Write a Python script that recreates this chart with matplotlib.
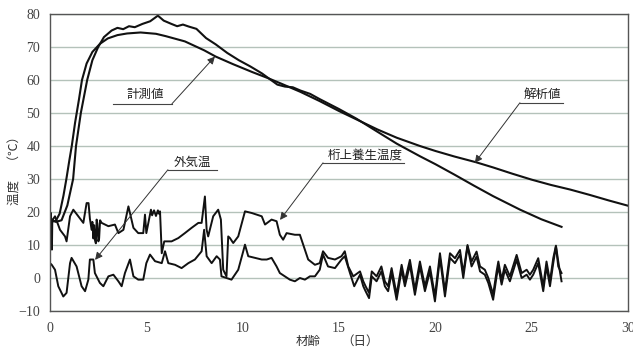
import matplotlib
matplotlib.use("Agg")
import matplotlib.pyplot as plt

plt.rcParams["font.family"] = ["Noto Sans CJK JP", "DejaVu Sans"]

# 解析値
ana_day = [0, 0.3, 0.5, 0.7, 0.85, 1.0, 1.13, 1.3, 1.5, 1.66, 1.9, 2.2, 2.6, 3.0, 3.5, 4.0,
           4.7, 5.5, 6.0, 7.0, 8.0, 8.6, 9.5, 10.5, 11.3, 12.0, 13.0, 14.0, 15.0, 16.0, 17.0,
           18.0, 19.2, 20.0, 21.0, 22.1, 23.0, 24.0, 25.0, 26.0, 27.0, 28.0, 29.0, 30.0]
ana_val = [17, 17.3, 19.5, 25, 30, 35.5, 40, 47, 54, 60, 65, 68.5, 71, 72.6, 73.6, 74.1,
           74.4, 74, 73.3, 71.7, 69, 67.1, 64.8, 62.4, 60.6, 58.9, 56.4, 53.6, 50.6, 47.8, 45,
           42.5, 40, 38.5, 36.8, 35.1, 33.5, 31.6, 29.8, 28.2, 26.8, 25.2, 23.5, 21.9]

# 計測値
mea_day = [0, 0.3, 0.6, 0.9, 1.05, 1.2, 1.35, 1.6, 1.93, 2.2, 2.5, 2.8, 3.2, 3.5, 3.8, 4.1,
           4.4, 4.8, 5.2, 5.6, 5.9, 6.3, 6.6, 6.9, 7.2, 7.6, 8.1, 8.6, 9.2, 9.8, 10.4, 11.0,
           11.8, 12.2, 12.6, 13.0, 13.5, 14.0, 15.0, 15.9, 17.0, 18.0, 19.2, 20.0, 21.0, 22.0,
           23.0, 24.4, 25.5, 26.55]
mea_val = [18, 17, 17.5, 22, 26, 30, 40, 50, 60, 66, 70, 73, 75, 75.8, 75.4, 76.3,
           76.0, 77.0, 77.8, 79.5, 78.0, 77.0, 76.3, 76.8, 76.2, 75.5, 72.7, 70.8, 68.2, 66.0, 64.1, 62.0,
           58.6, 58.0, 57.8, 56.8, 55.8, 54.2, 51.2, 48.3, 44.3, 40.7, 36.9, 34.5, 31.3, 28.0,
           24.8, 20.7, 17.8, 15.5]

# 外気温
air_day = [0, 0.09, 0.26, 0.43, 0.69, 0.86, 1.04, 1.12, 1.38, 1.64, 1.82, 1.99, 2.07, 2.25,
           2.33, 2.59, 2.77, 3.03, 3.29, 3.55, 3.72, 3.89, 4.15, 4.33, 4.58, 4.84, 5.0, 5.19,
           5.45, 5.8, 5.97, 6.14, 6.49, 6.83, 7.18, 7.52, 7.87, 8.0, 8.13, 8.39, 8.65, 8.82,
           8.9, 9.16, 9.42, 9.77, 10.03, 10.12, 10.29, 10.64, 10.99, 11.25, 11.5, 11.76, 11.93,
           12.19, 12.45, 12.71, 12.97, 13.23, 13.49, 13.75, 14.0, 14.17, 14.43, 14.79, 15.13,
           15.3, 15.57, 15.79, 16.09, 16.26, 16.38, 16.56, 16.7, 16.95, 17.2, 17.38, 17.55,
           17.73, 17.99, 18.25, 18.42, 18.68, 18.94, 19.2, 19.46, 19.72, 19.98, 20.24, 20.5,
           20.76, 21.02, 21.28, 21.45, 21.67, 21.88, 22.14, 22.32, 22.57, 22.75, 23.0, 23.18,
           23.27, 23.44, 23.61, 23.87, 24.22, 24.48, 24.74, 24.91, 25.08, 25.34, 25.6, 25.77,
           25.95, 26.12, 26.26, 26.38, 26.55]
air_val = [4.5, 4.0, 2.5, -2.5, -5.6, -4.5, 4.5, 6.1, 3.5, -2.5, -4.0, -0.5, 5.6, 5.6,
           1.5, -1.5, -2.5, 0.5, 1.0, -1.0, -2.5, 1.5, 5.6, 0.5, -0.5, -0.5, 4.5, 7.1,
           5.1, 4.5, 8.1, 4.5, 4.0, 3.0, 4.5, 5.6, 8.1, 14.6, 6.6, 4.5, 6.6, 5.6,
           0.5, 0.0, -0.5, 2.5, 8.1, 10.1, 6.6, 6.1, 5.6, 5.6, 6.1, 3.5, 1.5,
           0.5, -0.5, -1.0, 0.0, -0.5, 0.5, 0.5, 2.5, 7.1, 3.5, 3.0, 5.6,
           6.6, 1.5, -2.5, 1.0, -2.5, -4.0, -6.1, 0.5, -1.0, 2.0, -2.5, -4.0,
           1.5, -6.6, 2.5, -2.5, 4.0, -5.1, 3.5, -4.0, 2.0, -7.1, 6.1, -5.6,
           6.1, 4.5, 7.1, 0.0, 9.6, 3.5, 6.5, 2.0, 1.0, -1.5, -6.6, 0.5,
           3.5, -2.0, 2.5, -1.0, 5.5, 0.0, 1.0, -0.5, 1.0, 4.5, -4.0, 3.5,
           -2.5, 4.5, 9.6, 3.5, 1.5]

# 桁上養生温度
cur_day = [0, 0.05, 0.1, 0.12, 0.26, 0.52, 0.78, 0.86, 1.04, 1.21, 1.47, 1.73, 1.9, 2.0,
           2.07, 2.16, 2.2, 2.25, 2.29, 2.33, 2.38, 2.42, 2.46, 2.51, 2.55, 2.6, 2.68,
           3.03, 3.37, 3.55, 3.81, 4.07, 4.33, 4.58, 4.84,
           4.93, 5.0, 5.24, 5.3, 5.4, 5.5, 5.6, 5.65, 5.71, 5.8, 5.93, 6.05, 6.31, 6.66, 7.0,
           7.35, 7.7, 7.87,
           8.04, 8.13, 8.21, 8.47, 8.73, 8.87, 8.99, 9.16, 9.25, 9.34, 9.51, 9.77, 10.12,
           10.47, 10.99, 11.16, 11.5, 11.76, 11.93, 12.1, 12.28, 12.71, 12.97, 13.23, 13.4,
           13.75, 14.0, 14.17, 14.43, 14.79, 15.13, 15.3, 15.48, 15.74, 16.09, 16.26, 16.38,
           16.56, 16.7, 16.95, 17.2, 17.38, 17.55, 17.73, 17.99, 18.25, 18.42, 18.68, 18.94,
           19.2, 19.46, 19.72, 19.98, 20.24, 20.5, 20.76, 21.02, 21.28, 21.45, 21.67, 21.88,
           22.14, 22.32, 22.57, 22.75, 23.0, 23.18, 23.27, 23.44, 23.61, 23.87, 24.22, 24.48,
           24.74, 24.91, 25.08, 25.34, 25.6, 25.77, 25.95, 26.12, 26.26, 26.38, 26.55]
cur_val = [18, 19.7, 8.6, 17.5, 18.7, 14.6, 12.6, 11.1, 18.7, 20.7, 18.7, 16.7, 22.7, 22.7,
           18.0, 14.6, 17.0, 12.0, 16.0, 11.6, 10.5, 17.7, 16.5, 11.1, 12.0, 17.5, 16.7,
           15.7, 16.2, 13.6, 14.6, 21.7, 15.2, 13.6, 13.6,
           19.2, 13.6, 20.7, 19.0, 20.5, 18.8, 20.5, 19.5, 20.2, 7.5, 11.1, 11.1, 11.1, 12.1, 13.6,
           15.2, 16.7, 16.7,
           24.7, 14.6, 12.6, 18.7, 20.7, 17.7, 2.5, 0.5, 12.6, 12.1, 10.6, 12.6, 20.2,
           19.7, 18.7, 16.2, 17.7, 17.2, 13.1, 11.6, 13.6, 13.1, 13.1, 8.6, 5.6,
           4.0, 4.5, 8.1, 6.1, 5.6, 6.6, 8.1, 3.5, 0.5, 2.0, -1.0, -2.5,
           -4.5, 2.0, 0.5, 3.5, -1.0, -2.5, 3.0, -5.0, 4.0, -1.0, 5.5, -3.5,
           5.0, -2.5, 3.5, -5.5, 7.5, -4.0, 7.5, 6.0, 8.5, 1.5, 10.0, 5.0,
           8.0, 3.5, 2.5, 0.0, -5.0, 2.0, 5.0, -0.5, 4.0, 0.5, 7.0, 1.5,
           2.5, 1.0, 2.5, 6.0, -2.5, 5.0, -1.0, 6.0, 9.8, 5.0, -1.0]

fig = plt.figure(figsize=(6.33, 3.49), dpi=100)
ax = fig.add_axes([50 / 633, 1 - 311 / 349, 578 / 633, 297 / 349])

lc = "#111111"
ax.plot(ana_day, ana_val, color=lc, lw=1.5)
ax.plot(mea_day, mea_val, color=lc, lw=1.5)
ax.plot(air_day, air_val, color=lc, lw=1.4)
ax.plot(cur_day, cur_val, color=lc, lw=1.4)

ax.set_xlim(0, 30)
ax.set_ylim(-10, 80)
ax.set_xticks(range(0, 31, 5))
ax.set_yticks(range(-10, 81, 10))
ax.yaxis.grid(True, color="#b4c2ba", lw=1.0)
ax.set_axisbelow(True)
ax.tick_params(length=0, labelsize=10, colors="#444444")
ax.tick_params(axis="x", pad=8)
ax.tick_params(axis="y", pad=7)
for lab in ax.get_xticklabels() + ax.get_yticklabels():
    lab.set_family("Liberation Serif")
for s in ax.spines.values():
    s.set_color("#555555")
    s.set_linewidth(1.0)

# ラベルと矢印
labels = [
    ("計測値", 4.93, 55.5, 3.27, 6.33, 52.8, 6.33, 8.56, 67.1),
    ("解析値", 25.53, 55.5, 24.39, 26.62, 53.1, 24.39, 22.05, 34.9),
    ("桁上養生温度", 16.35, 37.1, 14.17, 18.37, 34.9, 14.17, 11.94, 17.6),
    ("外気温", 7.37, 35.0, 6.12, 8.67, 32.8, 6.12, 2.34, 5.5),
]
for txt, tx, ty, u0, u1, uy, ax0, hx, hy in labels:
    ax.text(tx, ty, txt, ha="center", va="center", fontsize=9, color="#222222")
    ax.plot([u0, u1], [uy, uy], color="#444444", lw=0.8)
    ax.annotate("", xy=(hx, hy), xytext=(ax0, uy),
                arrowprops=dict(arrowstyle="-|>", color="#333333", lw=0.7,
                                mutation_scale=11, shrinkA=0, shrinkB=0))

fig.text(15 / 633, 1 - 168 / 349, "温度　（℃）", rotation=90, ha="center", va="center",
         fontsize=9, color="#333333")
fig.text(308 / 633, 1 - 341 / 349, "材齢", ha="center", va="center",
         fontsize=9, color="#333333")
fig.text(360 / 633, 1 - 341 / 349, "（日）", ha="center", va="center",
         fontsize=9, color="#333333")

fig.savefig("out.png", dpi=100)
